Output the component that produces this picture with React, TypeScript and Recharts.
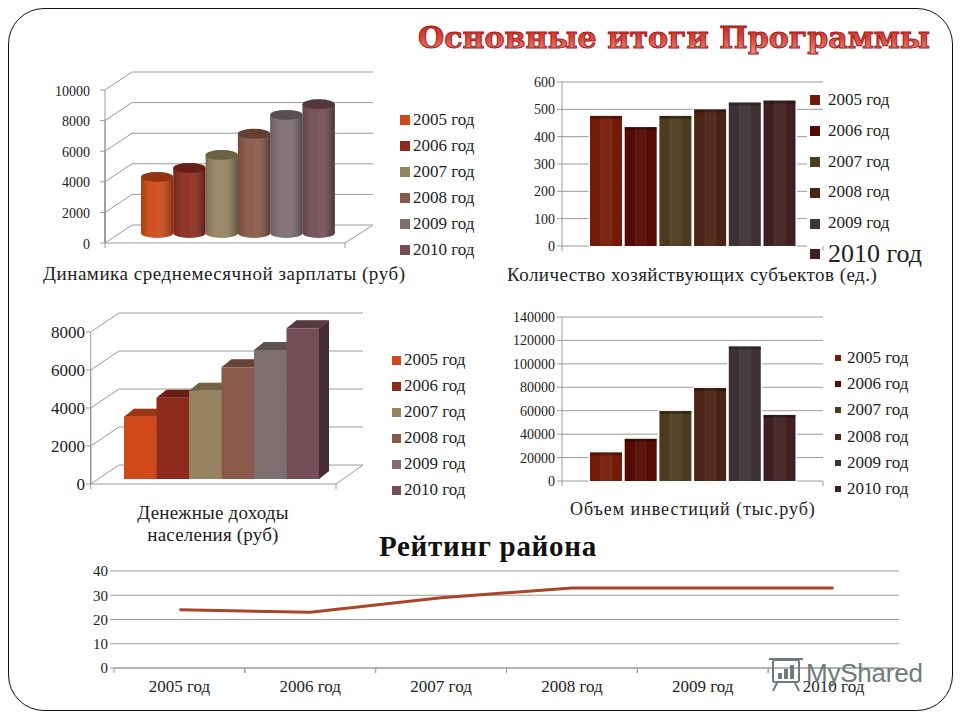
import {
  Bar,
  BarChart,
  CartesianGrid,
  Legend,
  Line,
  LineChart,
  XAxis,
  YAxis,
} from "recharts";

const years = ["2005 год", "2006 год", "2007 год", "2008 год", "2009 год", "2010 год"];

const warmColors = ["#cf4a18", "#8e2a1e", "#968560", "#8a5949", "#7d6e70", "#744d56"];
const darkColors = ["#741a08", "#550a03", "#4c3b1e", "#4b2415", "#3e3235", "#402022"];

const wageValues = [3660, 4250, 5100, 6480, 7720, 8420];
const wageTicks = [0, 2000, 4000, 6000, 8000, 10000];

const firmValues = [476, 435, 476, 500, 525, 532];
const firmTicks = [0, 100, 200, 300, 400, 500, 600];

const incomeValues = [3280, 4280, 4650, 5880, 6790, 7930];
const incomeTicks = [0, 2000, 4000, 6000, 8000];

const investValues = [24400, 36000, 59800, 79400, 114900, 56400];
const investTicks = [0, 20000, 40000, 60000, 80000, 100000, 120000, 140000];

const ratingValues = [24, 23, 29, 33, 33, 33];
const ratingTicks = [0, 10, 20, 30, 40];

const GRID = "#9a9a9a";
const INK = "#222";

const toRow = (values: number[]) => {
  const row: Record<string, string | number> = { name: "all" };
  years.forEach((y, i) => (row[y] = values[i]));
  return row;
};

const ratingData = years.map((y, i) => ({ name: y, value: ratingValues[i] }));

function YearLegend({ payload, pitch, iconSize, textGap, bigLast }: any) {
  return (
    <div style={{ fontSize: 17, color: INK, lineHeight: `${pitch}px` }}>
      {(payload || []).map((p: any, i: number) => {
        const big = bigLast && i === years.length - 1;
        return (
          <div key={p.value} style={{ display: "flex", alignItems: "center", height: pitch, whiteSpace: "nowrap" }}>
            <span style={{ width: iconSize, height: iconSize, background: p.color, marginRight: textGap }} />
            <span style={{ fontSize: big ? 26 : 17 }}>{p.value}</span>
          </div>
        );
      })}
    </div>
  );
}

function CylinderBar({ x, y, width, height, fill }: any) {
  const rx = width / 2;
  const ry = 5;
  const body = `M${x},${y} L${x},${y + height} A${rx},${ry} 0 0 0 ${x + width},${y + height} L${x + width},${y} Z`;
  return (
    <g>
      <defs>
        <linearGradient id="cylShade" x1="0" x2="1" y1="0" y2="0">
          <stop offset="0" stopColor="#000" stopOpacity={0.18} />
          <stop offset="0.45" stopColor="#fff" stopOpacity={0.04} />
          <stop offset="1" stopColor="#000" stopOpacity={0.36} />
        </linearGradient>
      </defs>
      <path d={body} fill={fill} />
      <path d={body} fill="url(#cylShade)" />
      <ellipse cx={x + rx} cy={y} rx={rx} ry={ry} fill={fill} />
      <ellipse cx={x + rx} cy={y} rx={rx} ry={ry} fill="#000" fillOpacity={0.28} />
    </g>
  );
}

function BoxBar({ x, y, width, height, fill }: any) {
  const dx = 10;
  const dy = 8;
  const top = `${x},${y} ${x + dx},${y - dy} ${x + width + dx},${y - dy} ${x + width},${y}`;
  const side = `${x + width},${y} ${x + width + dx},${y - dy} ${x + width + dx},${y + height - dy} ${x + width},${y + height}`;
  return (
    <g>
      <polygon points={side} fill={fill} />
      <polygon points={side} fill="#000" fillOpacity={0.42} />
      <polygon points={top} fill={fill} />
      <polygon points={top} fill="#000" fillOpacity={0.25} />
      <rect x={x} y={y} width={width} height={height} fill={fill} />
    </g>
  );
}

function StripedBar({ x, y, width, height, fill }: any) {
  return (
    <g>
      <rect x={x} y={y} width={width} height={height} fill={fill} stroke="#fff" strokeWidth={3} paintOrder="stroke" />
      <rect x={x + width / 3} y={y} width={width / 3} height={height} fill="#fff" fillOpacity={0.05} />
      <rect x={x + width / 3} y={y} width={1} height={height} fill="#fff" fillOpacity={0.07} />
      <rect x={x + (2 * width) / 3} y={y} width={1} height={height} fill="#fff" fillOpacity={0.07} />
      <rect x={x} y={y} width={width} height={3} fill="#000" fillOpacity={0.28} />
    </g>
  );
}

// walls of the fake 3D charts, hung on the gridline positions the y scale gives
const wallGrid =
  (frontLeft: number, frontRight: number, backLeft: number, backRight: number, frontDy: number, backDy: number) =>
  (p: any) => {
    const { x1, x2, y1, y, height } = p;
    const fy = y1 + frontDy;
    const by = y1 + backDy;
    const isFloor = y1 >= y + height - 0.5;
    const l = x1 + frontLeft;
    return (
      <g key={`wall-${y1}`} stroke={GRID} strokeWidth={1} fill="none">
        <polyline points={`${l},${fy} ${x1 + backLeft},${by} ${x2 + backRight},${by}`} />
        <line x1={l - 5} x2={l} y1={fy} y2={fy} />
        {!isFloor && <line x1={l} x2={l} y1={fy} y2={fy + (y + height - y1)} />}
        {isFloor && (
          <polyline points={`${l},${fy} ${x2 + frontRight},${fy} ${x2 + backRight},${by}`} />
        )}
        {isFloor && <line x1={l} x2={l} y1={fy} y2={fy + 5} />}
        {isFloor && <line x1={x2 + frontRight} x2={x2 + frontRight} y1={fy} y2={fy + 5} />}
      </g>
    );
  };

const flatGrid = (cutFrom: number | null, cutAt: number) => (p: any) => {
  const { x1, x2, y1, y, height } = p;
  const isFloor = y1 >= y + height - 0.5;
  const end = cutFrom !== null && y1 > cutFrom ? x1 + cutAt : x2;
  return (
    <g key={`flat-${y1}`} stroke={GRID} strokeWidth={1}>
      <line x1={x1} x2={end} y1={y1} y2={y1} />
      {isFloor && <line x1={x1} x2={x1} y1={y1} y2={y1 + 5} />}
      {isFloor && <line x1={x2} x2={x2} y1={y1} y2={y1 + 5} />}
    </g>
  );
};

const offsetTick = (dy: number, right: number, fontSize: number) => (p: any) => (
  <text x={right} y={p.y + dy} textAnchor="end" dominantBaseline="central" fontSize={fontSize} fill={INK}>
    {p.payload.value}
  </text>
);

const RATING_PLOT_WIDTH = 785;
const ratingBand = RATING_PLOT_WIDTH / years.length;

function RatingTick({ x, y, payload }: any) {
  return (
    <g>
      <line x1={x - ratingBand / 2} x2={x - ratingBand / 2} y1={y - 8} y2={y - 3} stroke={GRID} />
      <line x1={x + ratingBand / 2} x2={x + ratingBand / 2} y1={y - 8} y2={y - 3} stroke={GRID} />
      <text x={x} y={y + 16} textAnchor="middle" fontSize={17} fill={INK}>
        {payload.value}
      </text>
    </g>
  );
}

const box = (left: number, top: number): React.CSSProperties => ({ position: "absolute", left, top });

const caption = (left: number, top: number, extra?: React.CSSProperties): React.CSSProperties => ({
  ...box(left, top),
  fontSize: 19,
  color: INK,
  whiteSpace: "nowrap",
  lineHeight: "22px",
  ...extra,
});

export default function App() {
  return (
    <div
      style={{
        position: "absolute",
        left: 0,
        top: 0,
        width: 960,
        height: 720,
        background: "#fff",
        overflow: "hidden",
        fontFamily: "'Liberation Serif', serif",
      }}
    >
      <div
        style={{
          ...box(8, 8),
          width: 943,
          height: 701,
          border: "1.5px solid #111",
          borderRadius: 36,
        }}
      />

      <svg style={box(400, 10)} width={550} height={56}>
        <defs>
          <linearGradient id="headFill" x1="0" x2="0" y1="0" y2="1">
            <stop offset="0" stopColor="#bd211c" />
            <stop offset="0.5" stopColor="#d8473c" />
            <stop offset="1" stopColor="#f09a88" />
          </linearGradient>
        </defs>
        <text
          x={18}
          y={38}
          textLength={512}
          lengthAdjust="spacingAndGlyphs"
          fontFamily="'DejaVu Serif', serif"
          fontWeight="bold"
          fontSize={29}
          fill="url(#headFill)"
          stroke="#a5201c"
          strokeWidth={1}
        >
          Основные итоги Программы
        </text>
      </svg>

      {/* зарплата */}
      <div style={box(40, 60)}>
        <BarChart width={440} height={195} data={[toRow(wageValues)]} barSize={32.3} barGap={0}
          margin={{ top: 20, right: 122, bottom: 22, left: 0 }}>
          <CartesianGrid horizontal={wallGrid(-13, -13, 14, 15, 10, -8)} vertical={false} syncWithTicks />
          <XAxis dataKey="name" hide />
          <YAxis width={78} domain={[0, 10000]} ticks={wageTicks} interval={0} axisLine={false} tickLine={false}
            tick={offsetTick(11, 50, 14)} />
          {years.map((y, i) => (
            <Bar key={y} dataKey={y} name={y} fill={warmColors[i]} shape={CylinderBar} isAnimationActive={false} />
          ))}
          <Legend align="center" verticalAlign="middle" layout="vertical"
            wrapperStyle={{ left: 360, top: 47, width: 80 }}
            content={(p: any) => <YearLegend {...p} pitch={26} iconSize={10} textGap={3} />} />
        </BarChart>
      </div>
      <div style={caption(43, 263, { letterSpacing: 0.53 })}>Динамика среднемесячной зарплаты (руб)</div>

      {/* хозяйствующие субъекты */}
      <div style={box(500, 60)}>
        <BarChart width={440} height={200} data={[toRow(firmValues)]} barSize={32} barGap={2.7}
          margin={{ top: 22, right: 117, bottom: 14, left: 0 }}>
          <CartesianGrid horizontal={flatGrid(50, 245)} vertical={false} syncWithTicks />
          <XAxis dataKey="name" hide />
          <YAxis width={62} domain={[0, 600]} ticks={firmTicks} interval={0} tickSize={5}
            axisLine={{ stroke: GRID }} tickLine={{ stroke: GRID }} tick={{ fill: INK, fontSize: 14 }} />
          {years.map((y, i) => (
            <Bar key={y} dataKey={y} name={y} fill={darkColors[i]} shape={StripedBar} isAnimationActive={false} />
          ))}
          <Legend align="center" verticalAlign="middle" layout="vertical"
            wrapperStyle={{ left: 310, top: 25, width: 125 }}
            content={(p: any) => <YearLegend {...p} pitch={30.8} iconSize={10} textGap={8} bigLast />} />
        </BarChart>
      </div>
      <div style={caption(507, 264, { letterSpacing: 0.46 })}>Количество хозяйствующих субъектов (ед.)</div>

      {/* денежные доходы */}
      <div style={box(30, 300)}>
        <BarChart width={450} height={200} data={[toRow(incomeValues)]} barSize={32.5} barGap={0}
          margin={{ top: 27, right: 144, bottom: 21, left: 0 }}>
          <CartesianGrid horizontal={wallGrid(-16.3, 0, 12, 27, 5, -14)} vertical={false} syncWithTicks />
          <XAxis dataKey="name" hide />
          <YAxis width={77} domain={[0, 8000]} ticks={incomeTicks} interval={0} axisLine={false} tickLine={false}
            tick={offsetTick(5, 55, 17)} />
          {years.map((y, i) => (
            <Bar key={y} dataKey={y} name={y} fill={warmColors[i]} shape={BoxBar} isAnimationActive={false} />
          ))}
          <Legend align="center" verticalAlign="middle" layout="vertical"
            wrapperStyle={{ left: 362, top: 47, width: 85 }}
            content={(p: any) => <YearLegend {...p} pitch={26} iconSize={9} textGap={3} />} />
        </BarChart>
      </div>
      <div style={caption(63, 502, { width: 300, textAlign: "center", letterSpacing: 0.2 })}>
        Денежные доходы
        <br />
        населения (руб)
      </div>

      {/* инвестиции */}
      <div style={box(500, 300)}>
        <BarChart width={430} height={200} data={[toRow(investValues)]} barSize={32} barGap={2.7}
          margin={{ top: 17, right: 107, bottom: 19, left: 0 }}>
          <CartesianGrid horizontal={flatGrid(null, 0)} vertical={false} syncWithTicks />
          <XAxis dataKey="name" hide />
          <YAxis width={62} domain={[0, 140000]} ticks={investTicks} interval={0} tickSize={5}
            axisLine={{ stroke: GRID }} tickLine={{ stroke: GRID }} tick={{ fill: INK, fontSize: 14 }} />
          {years.map((y, i) => (
            <Bar key={y} dataKey={y} name={y} fill={darkColors[i]} shape={StripedBar} isAnimationActive={false} />
          ))}
          <Legend align="center" verticalAlign="middle" layout="vertical"
            wrapperStyle={{ left: 335, top: 45, width: 90 }}
            content={(p: any) => <YearLegend {...p} pitch={26.2} iconSize={6} textGap={6} />} />
        </BarChart>
      </div>
      <div style={{ ...caption(570, 498, { letterSpacing: 0.95 }), fontSize: 18 }}>Объем инвестиций (тыс.руб)</div>

      {/* рейтинг */}
      <div style={{ ...box(379, 530), fontSize: 29, fontWeight: "bold", color: "#111", whiteSpace: "nowrap", lineHeight: "32px", letterSpacing: 0.7 }}>
        Рейтинг района
      </div>
      <div style={box(70, 555)}>
        <LineChart width={850} height={150} data={ratingData} margin={{ top: 16, right: 21, bottom: 0, left: 0 }}>
          <CartesianGrid vertical={false} stroke={GRID} syncWithTicks />
          <XAxis dataKey="name" padding={{ left: ratingBand / 2, right: ratingBand / 2 }} height={37} interval={0}
            axisLine={{ stroke: GRID }} tickLine={false} tick={RatingTick} />
          <YAxis width={44} domain={[0, 40]} ticks={ratingTicks} interval={0} tickSize={4}
            axisLine={false} tickLine={{ stroke: GRID }} tick={{ fill: INK, fontSize: 15 }} />
          <Line dataKey="value" type="linear" stroke="#a8452a" strokeWidth={3} dot={false} isAnimationActive={false} />
        </LineChart>
      </div>

      {/* водяной знак */}
      <svg style={box(765, 655)} width={165} height={40}>
        <g fill="none" stroke="#6e7c79" strokeWidth={2}>
          <rect x={8} y={5} width={26} height={22} rx={2} />
          <line x1={4} x2={38} y1={4} y2={4} />
          <line x1={12} x2={8} y1={28} y2={36} />
          <line x1={30} x2={34} y1={28} y2={36} />
        </g>
        <g fill="#6e7c79">
          <rect x={13} y={18} width={4} height={6} />
          <rect x={19} y={14} width={4} height={10} />
          <rect x={25} y={10} width={4} height={14} />
        </g>
        <text x={41} y={27} fontFamily="'Liberation Sans', sans-serif" fontSize={26} fill="#6e7c79" textLength={117}>
          MyShared
        </text>
      </svg>
    </div>
  );
}
